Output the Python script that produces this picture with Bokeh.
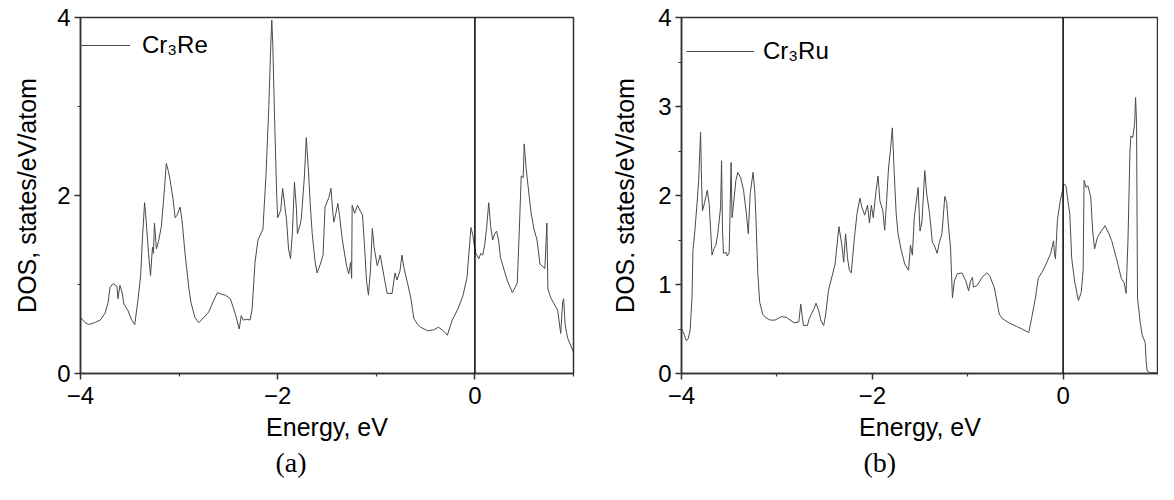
from bokeh.plotting import figure
from bokeh.models import Range1d, FixedTicker, Span, Legend, LegendItem, Title
from bokeh.layouts import row
from bokeh.core.properties import value
from bokeh.embed import file_html
from bokeh.resources import INLINE

# ---------------- data ----------------
energy_re = [-4.00, -3.96, -3.92, -3.86, -3.80, -3.75, -3.72, -3.70, -3.67, -3.63,
             -3.62, -3.60, -3.58, -3.56, -3.52, -3.48, -3.45, -3.42, -3.39, -3.37,
             -3.35, -3.34, -3.31, -3.29, -3.27, -3.26, -3.25, -3.23, -3.21, -3.18,
             -3.15, -3.13, -3.11, -3.09, -3.06, -3.04, -3.02, -2.99, -2.97, -2.94,
             -2.90, -2.88, -2.84, -2.80, -2.75, -2.70, -2.65, -2.61, -2.57, -2.53,
             -2.48, -2.43, -2.39, -2.37, -2.35, -2.31, -2.28, -2.26, -2.23, -2.20,
             -2.18, -2.15, -2.12, -2.09, -2.07, -2.06, -2.05, -2.03, -2.01, -2.00,
             -1.97, -1.95, -1.93, -1.91, -1.89, -1.87, -1.85, -1.83, -1.81, -1.80,
             -1.77, -1.76, -1.73, -1.71, -1.69, -1.67, -1.65, -1.62, -1.60, -1.57,
             -1.54, -1.52, -1.48, -1.46, -1.44, -1.43, -1.41, -1.39, -1.37, -1.35,
             -1.33, -1.30, -1.28, -1.26, -1.25, -1.245, -1.22, -1.19, -1.16, -1.14,
             -1.12, -1.10, -1.08, -1.06, -1.04, -1.02, -0.99, -0.96, -0.92, -0.89,
             -0.84, -0.81, -0.79, -0.76, -0.74, -0.72, -0.68, -0.65, -0.62, -0.58,
             -0.55, -0.48, -0.42, -0.37, -0.32, -0.28, -0.23, -0.17, -0.12, -0.08,
             -0.04, -0.02, -0.01, 0.01, 0.04, 0.06, 0.08, 0.10, 0.12, 0.14,
             0.16, 0.18, 0.20, 0.22, 0.24, 0.26, 0.30, 0.33, 0.38, 0.41,
             0.43, 0.45, 0.47, 0.49, 0.50, 0.52, 0.54, 0.57, 0.60, 0.63,
             0.66, 0.71, 0.73, 0.74, 0.77, 0.80, 0.84, 0.87, 0.89, 0.90,
             0.915, 0.94, 0.97, 1.00]
dos_re = [0.63, 0.58, 0.55, 0.57, 0.60, 0.68, 0.80, 0.97, 1.01, 0.98,
          0.84, 0.99, 0.92, 0.78, 0.71, 0.60, 0.55, 0.80, 1.10, 1.55,
          1.92, 1.80, 1.35, 1.10, 1.42, 1.35, 1.69, 1.40, 1.48, 1.65,
          2.05, 2.36, 2.28, 2.17, 1.95, 1.75, 1.78, 1.87, 1.72, 1.35,
          0.95, 0.80, 0.63, 0.57, 0.63, 0.69, 0.82, 0.91, 0.89, 0.88,
          0.84, 0.67, 0.50, 0.65, 0.60, 0.61, 0.60, 0.72, 1.25, 1.50,
          1.55, 1.62, 2.20, 3.00, 3.70, 3.97, 3.70, 2.80, 2.00, 1.75,
          1.83, 2.08, 1.90, 1.72, 1.40, 1.29, 1.60, 2.15, 1.85, 1.57,
          1.68, 1.75, 2.20, 2.65, 2.31, 1.90, 1.57, 1.25, 1.13, 1.22,
          1.33, 1.87, 1.98, 2.08, 1.80, 1.70, 1.80, 1.91, 1.75, 1.55,
          1.40, 1.20, 1.12, 1.25, 1.07, 1.89, 1.80, 1.89, 1.82, 1.78,
          1.45, 1.05, 0.88, 1.15, 1.63, 1.40, 1.21, 1.33, 1.08, 0.90,
          0.90, 1.13, 1.05, 1.15, 1.33, 1.19, 1.00, 0.85, 0.62, 0.55,
          0.52, 0.48, 0.49, 0.52, 0.48, 0.43, 0.60, 0.73, 0.88, 1.08,
          1.64, 1.55, 1.46, 1.35, 1.29, 1.35, 1.33, 1.45, 1.65, 1.92,
          1.65, 1.50, 1.57, 1.60, 1.50, 1.30, 1.15, 1.04, 0.91, 0.97,
          1.02, 1.60, 2.22, 2.20, 2.58, 2.30, 2.10, 1.80, 1.62, 1.50,
          1.23, 1.18, 1.69, 0.95, 0.85, 0.79, 0.71, 0.45, 0.80, 0.84,
          0.55, 0.40, 0.32, 0.24]

energy_ru = [-4.00, -3.98, -3.95, -3.93, -3.91, -3.89, -3.88, -3.86, -3.84, -3.82,
             -3.80, -3.79, -3.78, -3.76, -3.73, -3.71, -3.68, -3.66, -3.64, -3.62,
             -3.59, -3.58, -3.57, -3.56, -3.53, -3.52, -3.50, -3.49, -3.48, -3.47,
             -3.45, -3.43, -3.41, -3.38, -3.35, -3.32, -3.30, -3.28, -3.25, -3.23,
             -3.22, -3.20, -3.18, -3.15, -3.12, -3.07, -3.02, -2.95, -2.90, -2.82,
             -2.77, -2.75, -2.73, -2.72, -2.68, -2.66, -2.61, -2.59, -2.56, -2.54,
             -2.51, -2.49, -2.46, -2.39, -2.35, -2.32, -2.30, -2.28, -2.26, -2.24,
             -2.22, -2.19, -2.16, -2.13, -2.11, -2.08, -2.05, -2.03, -2.01, -1.99,
             -1.96, -1.94, -1.92, -1.89, -1.87, -1.85, -1.83, -1.81, -1.79, -1.77,
             -1.75, -1.73, -1.70, -1.66, -1.62, -1.60, -1.58, -1.56, -1.52, -1.50,
             -1.48, -1.45, -1.43, -1.40, -1.37, -1.35, -1.32, -1.30, -1.27, -1.24,
             -1.22, -1.20, -1.18, -1.16, -1.14, -1.11, -1.06, -1.02, -0.99, -0.97,
             -0.95, -0.94, -0.90, -0.85, -0.80, -0.77, -0.72, -0.67, -0.64, -0.57,
             -0.49, -0.43, -0.36, -0.33, -0.29, -0.26, -0.21, -0.17, -0.13, -0.10,
             -0.09, -0.08, -0.06, -0.03, 0.01, 0.03, 0.05, 0.07, 0.09, 0.12,
             0.16, 0.19, 0.21, 0.22, 0.24, 0.26, 0.29, 0.31, 0.33, 0.36,
             0.40, 0.44, 0.48, 0.51, 0.56, 0.61, 0.64, 0.66, 0.68, 0.70,
             0.71, 0.73, 0.75, 0.76, 0.77, 0.78, 0.81, 0.83, 0.86, 0.87,
             0.88, 0.91, 0.96, 1.00]
dos_ru = [0.50, 0.46, 0.37, 0.39, 0.48, 0.85, 1.38, 1.60, 1.87, 2.17,
          2.71, 2.17, 1.83, 1.91, 2.06, 1.91, 1.33, 1.40, 1.44, 1.57,
          1.87, 2.39, 1.60, 1.35, 1.36, 1.32, 1.36, 1.87, 2.37, 1.75,
          1.95, 2.17, 2.26, 2.20, 2.06, 1.80, 1.57, 2.02, 2.26, 2.02,
          1.75, 1.12, 0.80, 0.67, 0.63, 0.60, 0.60, 0.64, 0.63, 0.57,
          0.58, 0.78, 0.60, 0.54, 0.54, 0.62, 0.73, 0.79, 0.70, 0.60,
          0.54, 0.65, 0.93, 1.23, 1.65, 1.45, 1.25, 1.57, 1.30, 1.16,
          1.13, 1.50, 1.80, 1.97, 1.87, 1.78, 1.89, 1.69, 1.89, 1.75,
          2.06, 2.22, 1.94, 1.83, 1.61, 1.94, 2.31, 2.51, 2.76, 2.25,
          1.80, 1.57, 1.40, 1.23, 1.16, 1.44, 1.33, 1.75, 2.09, 1.60,
          1.70, 2.28, 2.02, 1.80, 1.47, 1.44, 1.35, 1.46, 1.57, 1.99,
          1.92, 1.64, 1.42, 0.85, 1.04, 1.12, 1.13, 1.04, 0.93, 1.04,
          1.08, 0.97, 0.99, 1.08, 1.13, 1.10, 0.96, 0.67, 0.62, 0.57,
          0.53, 0.50, 0.46, 0.62, 0.85, 1.07, 1.16, 1.25, 1.35, 1.49,
          1.35, 1.29, 1.72, 1.94, 2.13, 2.11, 1.94, 1.80, 1.30, 1.04,
          0.82, 0.91, 1.16, 2.17, 2.09, 2.11, 1.98, 1.60, 1.40, 1.53,
          1.60, 1.66, 1.57, 1.49, 1.29, 1.07, 1.02, 0.90, 1.49, 2.47,
          2.67, 2.65, 2.81, 3.10, 2.81, 0.85, 0.56, 0.43, 0.35, 0.15,
          0.03, 0.01, 0.01, 0.01]

x_major = [-4, -2, 0]
x_minor = [-3, -1, 1]
y_major_re = [0, 2, 4]
y_minor_re = [1, 3]
y_major_ru = [0, 1, 2, 3, 4]
y_minor_ru = [0.5, 1.5, 2.5, 3.5]

label_re = "Cr\u2083Re"
label_ru = "Cr\u2083Ru"
ylabel_re = "DOS, states/eV/atom"
ylabel_ru = "DOS. states/eV/atom"
xlabel = "Energy, eV"
caption_re = "(a)"
caption_ru = "(b)"

FONT = "Liberation Sans"
SERIF = "Liberation Serif"
AX = "#333333"
CURVE = "#4a4a4a"


def panel(x, y, label, ylabel, yticks, yminor, caption, width, bl, br,
          leg_loc, glyph_w, leg_standoff, cap_offset, ylab_standoff):
    p = figure(width=width, height=484, x_range=Range1d(-4, 1), y_range=Range1d(0, 4),
               output_backend="svg", toolbar_location=None,
               min_border_left=bl, min_border_right=br, min_border_top=17,
               min_border_bottom=111)
    p.grid.visible = False
    p.background_fill_color = "white"
    p.border_fill_color = "white"
    p.outline_line_color = AX
    p.outline_line_width = 1.5

    r = p.line(x, y, line_color=CURVE, line_width=1)
    p.add_layout(Span(location=0, dimension="height", line_color="black", line_width=1.5))

    for ax in (p.xaxis[0], p.yaxis[0]):
        ax.axis_line_color = AX
        ax.axis_line_width = 1.5
        ax.major_tick_line_color = AX
        ax.minor_tick_line_color = AX
        ax.major_tick_line_width = 1.5
        ax.minor_tick_line_width = 1.2
        ax.major_tick_in = 0
        ax.major_tick_out = 6
        ax.minor_tick_in = 0
        ax.minor_tick_out = 3
        ax.major_label_text_font = FONT
        ax.major_label_text_font_size = "24px"
        ax.major_label_text_color = "black"
        ax.axis_label_text_font = FONT
        ax.axis_label_text_font_size = "25px"
        ax.axis_label_text_font_style = "normal"
        ax.axis_label_text_color = "black"

    p.xaxis.ticker = FixedTicker(ticks=x_major, minor_ticks=x_minor)
    p.yaxis.ticker = FixedTicker(ticks=yticks, minor_ticks=yminor)
    p.xaxis.axis_label = xlabel
    p.yaxis.axis_label = ylabel
    p.xaxis.major_label_standoff = 7
    p.xaxis.axis_label_standoff = 6
    p.yaxis.major_label_standoff = 4
    p.yaxis.axis_label_standoff = ylab_standoff

    leg = Legend(items=[LegendItem(label=value(label), renderers=[r])],
                 location=leg_loc, glyph_width=glyph_w, label_standoff=leg_standoff,
                 padding=0, margin=0, spacing=0, border_line_alpha=0,
                 background_fill_alpha=0, label_text_font=FONT,
                 label_text_font_size="24px", label_text_color="black")
    p.add_layout(leg)

    p.add_layout(Title(text=caption, align="left", offset=cap_offset,
                       text_font=SERIF, text_font_size="28px",
                       text_font_style="normal", text_color="black",
                       standoff=3), "below")
    return p


p1 = panel(energy_re, dos_re, label_re, ylabel_re, y_major_re, y_minor_re, caption_re,
           width=581, bl=80, br=8, leg_loc=(-6, 314), glyph_w=56, leg_standoff=12,
           cap_offset=195, ylab_standoff=13)
p2 = panel(energy_ru, dos_ru, label_ru, ylabel_ru, y_major_ru, y_minor_ru, caption_ru,
           width=577, bl=100, br=0, leg_loc=(5, 308), glyph_w=68, leg_standoff=9,
           cap_offset=182, ylab_standoff=16)

layout = row(p1, p2)
open("out.html", "w").write(file_html(layout, INLINE))
